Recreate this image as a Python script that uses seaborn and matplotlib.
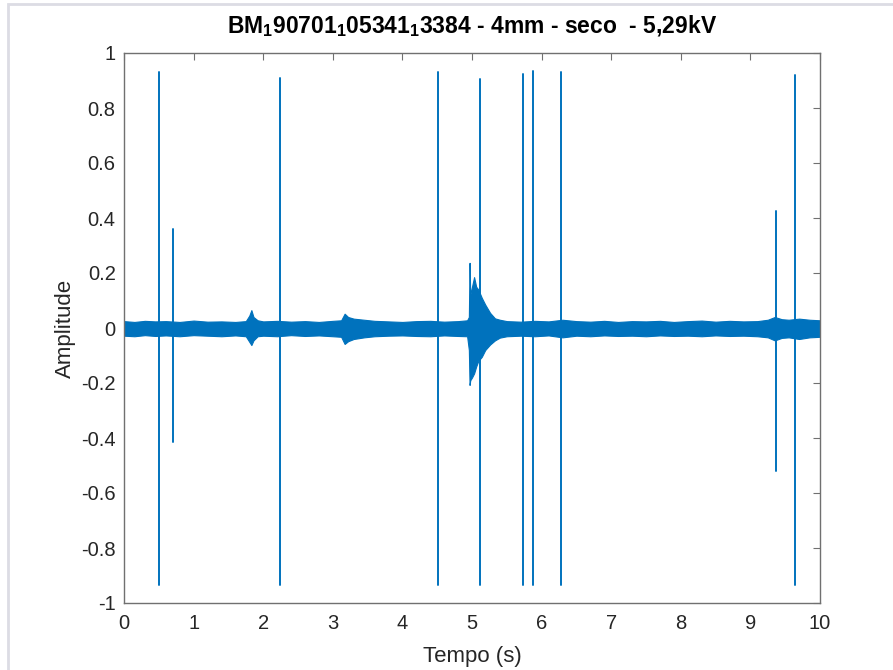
import numpy as np
import pandas as pd
import matplotlib
matplotlib.use("Agg")
import matplotlib.pyplot as plt
import seaborn as sns
from matplotlib.patches import Rectangle

# ---- data ----
title_text = r"BM$_1$90701$_1$05341$_1$3384 - 4mm - seco  - 5,29kV"
xlabel_text = "Tempo (s)"
ylabel_text = "Amplitude"

# isolated discharge spikes: time, positive peak, negative peak
spike_t   = [0.50, 0.70, 2.24, 4.51, 5.11, 5.73, 5.88, 6.28, 9.37, 9.64]
spike_top = [0.93, 0.36, 0.91, 0.93, 0.905, 0.925, 0.935, 0.93, 0.425, 0.92]
spike_bot = [-0.935, -0.415, -0.935, -0.935, -0.935, -0.935, -0.935, -0.935, -0.52, -0.935]

# envelope of the continuous noise band
env_t  = [0.00, 0.15, 0.30, 0.45, 0.60, 0.80, 1.00, 1.20, 1.40, 1.60, 1.75, 1.80, 1.83, 1.86, 1.92,
          2.00, 2.20, 2.40, 2.60, 2.80, 3.00, 3.12, 3.17, 3.22, 3.30, 3.45, 3.60, 3.80, 4.00, 4.20,
          4.40, 4.60, 4.80, 4.93, 4.955, 4.965, 4.975, 5.00, 5.03, 5.06, 5.09, 5.14, 5.19, 5.26,
          5.33, 5.40, 5.50, 5.70, 5.90, 6.10, 6.30, 6.50, 6.70, 6.90, 7.10, 7.30, 7.50, 7.70, 7.90,
          8.10, 8.30, 8.50, 8.70, 8.90, 9.10, 9.25, 9.35, 9.45, 9.55, 9.70, 9.85, 10.00]
env_hi = [0.025, 0.022, 0.026, 0.024, 0.025, 0.022, 0.027, 0.023, 0.024, 0.022, 0.025, 0.045, 0.065, 0.040, 0.028,
          0.024, 0.026, 0.023, 0.025, 0.022, 0.026, 0.028, 0.052, 0.040, 0.034, 0.030, 0.026, 0.024, 0.022, 0.025,
          0.026, 0.023, 0.025, 0.028, 0.040, 0.237, 0.120, 0.150, 0.185, 0.150, 0.140, 0.110, 0.085, 0.055,
          0.035, 0.030, 0.025, 0.023, 0.026, 0.024, 0.030, 0.025, 0.023, 0.026, 0.022, 0.025, 0.024, 0.026, 0.022,
          0.025, 0.027, 0.023, 0.026, 0.024, 0.025, 0.030, 0.040, 0.032, 0.030, 0.034, 0.030, 0.028]
env_lo = [-0.028, -0.030, -0.026, -0.029, -0.027, -0.030, -0.026, -0.028, -0.030, -0.027, -0.030, -0.050, -0.062, -0.045, -0.030,
          -0.028, -0.030, -0.026, -0.029, -0.027, -0.030, -0.032, -0.058, -0.048, -0.040, -0.034, -0.030, -0.028, -0.027, -0.029,
          -0.030, -0.027, -0.029, -0.030, -0.080, -0.207, -0.190, -0.180, -0.165, -0.140, -0.120, -0.105, -0.080, -0.060,
          -0.045, -0.035, -0.030, -0.028, -0.030, -0.027, -0.034, -0.028, -0.030, -0.027, -0.029, -0.028, -0.030, -0.027, -0.029,
          -0.028, -0.030, -0.027, -0.029, -0.028, -0.030, -0.034, -0.045, -0.036, -0.034, -0.040, -0.034, -0.032]

xticks = [0, 1, 2, 3, 4, 5, 6, 7, 8, 9, 10]
yticks = [-1, -0.8, -0.6, -0.4, -0.2, 0, 0.2, 0.4, 0.6, 0.8, 1]
ytick_labels = ["-1", "-0.8", "-0.6", "-0.4", "-0.2", "0", "0.2", "0.4", "0.6", "0.8", "1"]

# ---- styling ----
sns.set_style("white")
plt.rcParams["font.family"] = ["Liberation Sans", "DejaVu Sans"]
plt.rcParams["mathtext.default"] = "regular"

line_color = "#0072BD"
axis_color = "#707070"
text_color = "#262626"

fig = plt.figure(figsize=(8.93, 6.70), dpi=100)
fig.patch.set_facecolor("white")
# light screenshot frame
fig.add_artist(Rectangle((8 / 893, -0.01), 1.0, (670 - 4) / 670 + 0.01,
                         transform=fig.transFigure, fill=False,
                         edgecolor="#dcdce4", linewidth=2.0))

ax = fig.add_axes([124 / 893, 1 - 603 / 670, (820 - 124) / 893, (603 - 53) / 670])

# noise band
ax.fill_between(env_t, env_lo, env_hi, color=line_color, linewidth=0.8, edgecolor=line_color, zorder=2)

# spikes via seaborn
rows = []
for i, (t, top, bot) in enumerate(zip(spike_t, spike_top, spike_bot)):
    rows.append({"t": t, "amp": bot, "id": i})
    rows.append({"t": t, "amp": top, "id": i})
df = pd.DataFrame(rows)
sns.lineplot(data=df, x="t", y="amp", units="id", estimator=None, sort=False,
             color=line_color, linewidth=1.4, ax=ax, zorder=3)

ax.set_xlim(0, 10)
ax.set_ylim(-1, 1)
ax.set_xticks(xticks)
ax.set_xticklabels([str(v) for v in xticks])
ax.set_yticks(yticks)
ax.set_yticklabels(ytick_labels)

ax.tick_params(axis="both", which="both", direction="in", length=5, width=0.8,
               colors=axis_color, labelcolor=text_color, labelsize=14.5,
               top=True, right=True, pad=6)
ax.tick_params(axis="x", pad=8)
for s in ax.spines.values():
    s.set_visible(True)
    s.set_color(axis_color)
    s.set_linewidth(1.0)

ax.set_xlabel(xlabel_text, fontsize=16, color=text_color, labelpad=9)
ax.set_ylabel(ylabel_text, fontsize=16, color=text_color, labelpad=4)
ax.set_title(title_text, fontsize=16.5, fontweight="bold", color="#000000", pad=14)

fig.savefig("out.png", dpi=100, facecolor="white")
